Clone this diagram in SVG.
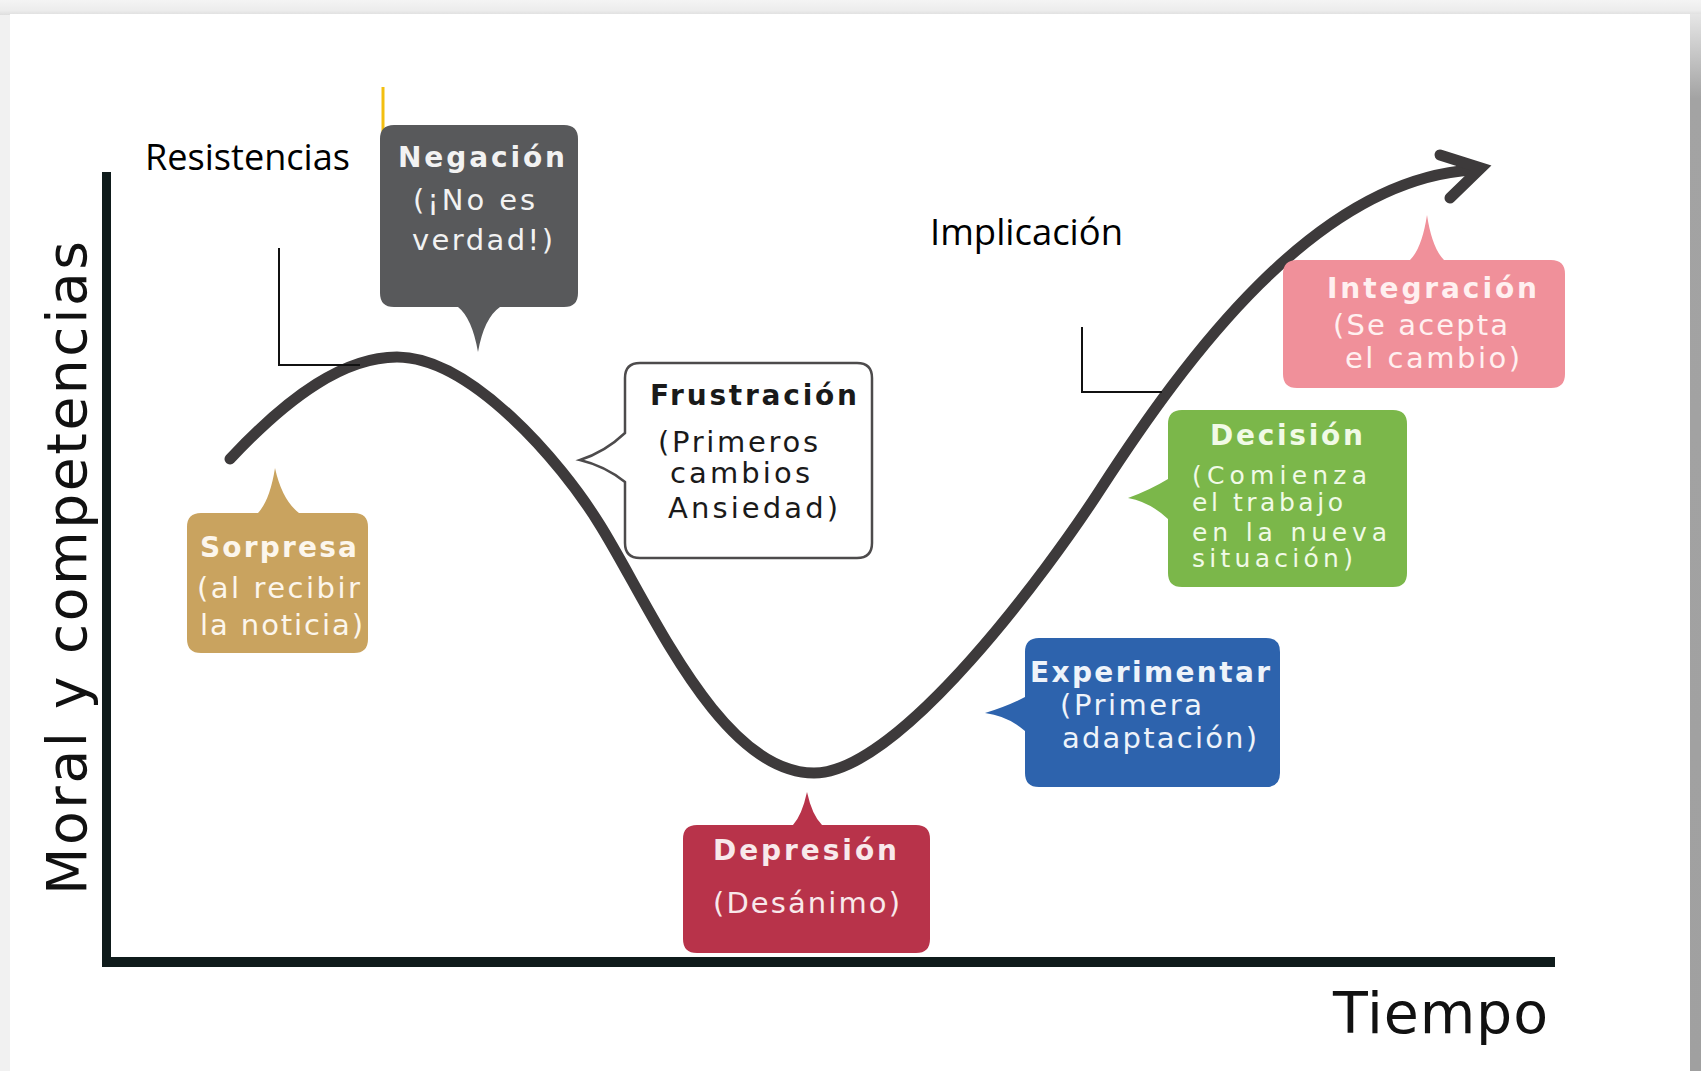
<svg xmlns="http://www.w3.org/2000/svg" width="1701" height="1071" viewBox="0 0 1701 1071">
<defs>
<linearGradient id="topShade" x1="0" y1="0" x2="0" y2="1">
<stop offset="0" stop-color="#f4f4f4"/>
<stop offset="0.7" stop-color="#ececec"/>
<stop offset="1" stop-color="#dedede"/>
</linearGradient>
<linearGradient id="rightShade" x1="0" y1="0" x2="0" y2="1">
<stop offset="0" stop-color="#e6e6e6"/>
<stop offset="0.08" stop-color="#a3a3a3"/>
<stop offset="1" stop-color="#a0a0a0"/>
</linearGradient>
</defs>
<style>
.box text{font-family:"DejaVu Sans",Verdana,sans-serif;font-size:29px}
.box .t{font-weight:bold;font-size:28px}
.box .s{font-size:25px}
.lbl{font-family:"Open Sans","Noto Sans",sans-serif;font-size:37px;fill:#000}
.axis{fill:#0f1b1b}
.curve{fill:none;stroke:#3d3a3b;stroke-width:11;stroke-linecap:round;stroke-linejoin:round}
.bracket{fill:none;stroke:#111;stroke-width:2}
</style>
<!-- background frame -->
<rect x="0" y="0" width="1701" height="1071" fill="#f1f1f1"/>
<rect x="0" y="0" width="1701" height="15" fill="url(#topShade)"/>
<rect x="10" y="14" width="1681" height="1057" fill="#ffffff"/>
<rect x="1690" y="14" width="11" height="1057" fill="url(#rightShade)"/>

<!-- axes -->
<g id="axes">
<rect class="axis" x="102" y="172" width="9" height="795"/>
<rect class="axis" x="102" y="957" width="1453" height="10"/>
<text x="1333" y="1033" font-family="'DejaVu Sans',sans-serif" font-size="57" fill="#111" textLength="215" lengthAdjust="spacing">Tiempo</text>
<text transform="translate(86,895) rotate(-90)" font-family="'DejaVu Sans',sans-serif" font-size="55" fill="#111" textLength="654" lengthAdjust="spacing">Moral y competencias</text>
</g>

<!-- connectors -->
<g id="connectors">
<path class="curve" d="M 230 459 C 290 395 345 357 397 357 C 470 357 560 460 600 525 C 650 605 720 773 814 773 C 900 773 1050 567 1100 490 C 1185 359 1315 180 1472 170"/>
<polyline points="1440,155 1481,168 1450,198" fill="none" stroke="#3d3a3b" stroke-width="11" stroke-linecap="round" stroke-linejoin="miter"/>
<polyline class="bracket" points="279,248 279,365 360,365"/>
<polyline class="bracket" points="1082,327 1082,392 1162,392"/>
<line x1="383" y1="87" x2="383" y2="173" stroke="#f3bf10" stroke-width="3"/>
</g>

<!-- labels -->
<g id="label-resistencias"><text class="lbl" x="145" y="170" textLength="205" lengthAdjust="spacingAndGlyphs">Resistencias</text></g>
<g id="label-implicacion"><text class="lbl" x="930" y="245" textLength="193" lengthAdjust="spacingAndGlyphs">Implicación</text></g>

<!-- nodes -->
<g id="sorpresa" class="box">
<path fill="#c9a35f" d="M 201 513 L 258 513 Q 270 500 275 468 Q 282 500 299 513 L 354 513 Q 368 513 368 527 L 368 639 Q 368 653 354 653 L 201 653 Q 187 653 187 639 L 187 527 Q 187 513 201 513 Z"/>
<g fill="#fcf6ec">
<text class="t" x="200" y="557" textLength="157" lengthAdjust="spacing">Sorpresa</text>
<text x="197" y="598" textLength="163" lengthAdjust="spacing">(al recibir</text>
<text x="200" y="635" textLength="163" lengthAdjust="spacing">la noticia)</text>
</g>
</g>

<g id="negacion" class="box">
<path fill="#58595b" d="M 394 125 L 564 125 Q 578 125 578 139 L 578 293 Q 578 307 564 307 L 500 307 Q 484 318 478 352 Q 472 318 458 307 L 394 307 Q 380 307 380 293 L 380 139 Q 380 125 394 125 Z"/>
<g fill="#f2f2f2">
<text class="t" x="398" y="167" textLength="167" lengthAdjust="spacing">Negación</text>
<text x="413" y="210" textLength="122" lengthAdjust="spacing">(¡No es</text>
<text x="412" y="250" textLength="141" lengthAdjust="spacing">verdad!)</text>
</g>
</g>

<g id="frustracion" class="box">
<path fill="#ffffff" stroke="#4d4b4c" stroke-width="2.5" d="M 640 363 L 857 363 Q 872 363 872 378 L 872 543 Q 872 558 857 558 L 640 558 Q 625 558 625 543 L 625 482 Q 605 466 580 460 Q 605 452 625 433 L 625 378 Q 625 363 640 363 Z"/>
<g fill="#1a1a1a">
<text class="t" x="650" y="405" textLength="207" lengthAdjust="spacing">Frustración</text>
<text x="658" y="452" textLength="160" lengthAdjust="spacing">(Primeros</text>
<text x="670" y="483" textLength="140" lengthAdjust="spacing">cambios</text>
<text x="668" y="518" textLength="170" lengthAdjust="spacing">Ansiedad)</text>
</g>
</g>

<g id="depresion" class="box">
<path fill="#b8334a" d="M 697 825 L 793 825 Q 802 815 807 792 Q 812 815 822 825 L 916 825 Q 930 825 930 839 L 930 939 Q 930 953 916 953 L 697 953 Q 683 953 683 939 L 683 839 Q 683 825 697 825 Z"/>
<g fill="#f8e9eb">
<text class="t" x="713" y="860" textLength="184" lengthAdjust="spacing">Depresión</text>
<text x="713" y="913" textLength="187" lengthAdjust="spacing">(Desánimo)</text>
</g>
</g>

<g id="experimentar" class="box">
<path fill="#2d63ad" d="M 1039 638 L 1266 638 Q 1280 638 1280 652 L 1280 773 Q 1280 787 1266 787 L 1039 787 Q 1025 787 1025 773 L 1025 731 Q 1008 716 985 713 Q 1008 706 1025 697 L 1025 652 Q 1025 638 1039 638 Z"/>
<g fill="#eef3fa">
<text class="t" x="1030" y="682" textLength="240" lengthAdjust="spacing">Experimentar</text>
<text x="1060" y="715" textLength="142" lengthAdjust="spacing">(Primera</text>
<text x="1062" y="748" textLength="195" lengthAdjust="spacing">adaptación)</text>
</g>
</g>

<g id="decision" class="box">
<path fill="#7bb74a" d="M 1182 410 L 1393 410 Q 1407 410 1407 424 L 1407 573 Q 1407 587 1393 587 L 1182 587 Q 1168 587 1168 573 L 1168 519 Q 1150 502 1128 498 Q 1150 490 1168 479 L 1168 424 Q 1168 410 1182 410 Z"/>
<g fill="#f1fae6">
<text class="t" x="1210" y="445" textLength="153" lengthAdjust="spacing">Decisión</text>
<text class="s" x="1192" y="484" textLength="175" lengthAdjust="spacing">(Comienza</text>
<text class="s" x="1192" y="511" textLength="151" lengthAdjust="spacing">el trabajo</text>
<text class="s" x="1192" y="541" textLength="195" lengthAdjust="spacing">en la nueva</text>
<text class="s" x="1192" y="567" textLength="161" lengthAdjust="spacing">situación)</text>
</g>
</g>

<g id="integracion" class="box">
<path fill="#f0909a" d="M 1297 260 L 1410 260 Q 1422 248 1427 215 Q 1432 248 1444 260 L 1551 260 Q 1565 260 1565 274 L 1565 374 Q 1565 388 1551 388 L 1297 388 Q 1283 388 1283 374 L 1283 274 Q 1283 260 1297 260 Z"/>
<g fill="#fff0f0">
<text class="t" x="1327" y="298" textLength="210" lengthAdjust="spacing">Integración</text>
<text x="1333" y="335" textLength="175" lengthAdjust="spacing">(Se acepta</text>
<text x="1345" y="368" textLength="175" lengthAdjust="spacing">el cambio)</text>
</g>
</g>
</svg>
